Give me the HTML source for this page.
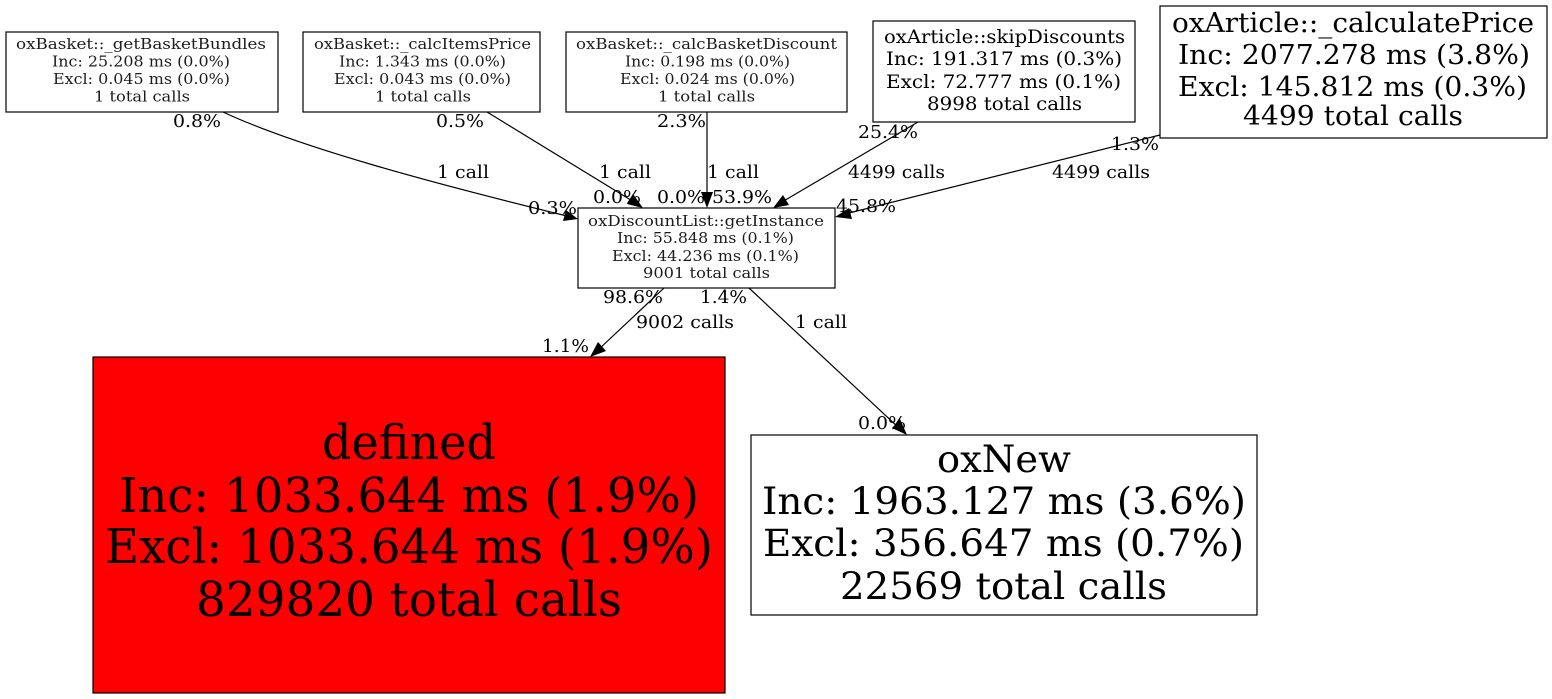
<!DOCTYPE html>
<html><head><meta charset="utf-8"><style>
html,body{margin:0;padding:0;background:#fff}
svg{display:block}
text{font-family:"DejaVu Serif","Liberation Serif",serif;fill:#000}
.n{font-size:14.5px}.n text{fill:#1c1c1c}.m{font-size:18.5px}.l{font-size:27px}.x{font-size:48px}.y{font-size:37.5px}.e{font-size:18px}
rect{stroke:#000;stroke-width:1.2;fill:#fff}
.c{fill:none;stroke:#000;stroke-width:1.2}
</style></head><body>
<svg width="1552" height="699" viewBox="0 0 1552 699" xmlns="http://www.w3.org/2000/svg">
<rect x="6" y="32" width="272" height="80"/>
<rect x="303" y="32" width="237" height="80"/>
<rect x="566" y="32" width="281" height="80"/>
<rect x="873" y="21" width="262" height="101"/>
<rect x="1160" y="6" width="387" height="132"/>
<rect x="578" y="208" width="257" height="80"/>
<rect x="93" y="357" width="632" height="336" style="fill:#f00"/>
<rect x="751" y="435" width="506" height="180"/>

<path class="c" d="M223 112C300 148 440 185 567 216"/>
<path class="c" d="M487 112L634 202"/>
<path class="c" d="M707 112V197"/>
<path class="c" d="M918 122L782 202"/>
<path class="c" d="M1160 135L845 214"/>
<path class="c" d="M664 288L598 350"/>
<path class="c" d="M749 288L899 428"/>
<polygon points="578,219 563,221 566,210"/>
<polygon points="643,208 627,204 633,194"/>
<polygon points="707,208 701,192 713,192"/>
<polygon points="773,208 783,195 789,205"/>
<polygon points="835,217 849,208 852,219"/>
<polygon points="590,357 598,342 606,351"/>
<polygon points="907,435 892,428 900,419"/>

<g class="n">
<text x="16" y="49" textLength="250" lengthAdjust="spacingAndGlyphs">oxBasket::_getBasketBundles</text>
<text x="52" y="66.5" textLength="178" lengthAdjust="spacingAndGlyphs">Inc: 25.208 ms (0.0%)</text>
<text x="53" y="84" textLength="177" lengthAdjust="spacingAndGlyphs">Excl: 0.045 ms (0.0%)</text>
<text x="94" y="101.5" textLength="96" lengthAdjust="spacingAndGlyphs">1 total calls</text>
<text x="314" y="49" textLength="217" lengthAdjust="spacingAndGlyphs">oxBasket::_calcItemsPrice</text>
<text x="339" y="66.5" textLength="167" lengthAdjust="spacingAndGlyphs">Inc: 1.343 ms (0.0%)</text>
<text x="334" y="84" textLength="177" lengthAdjust="spacingAndGlyphs">Excl: 0.043 ms (0.0%)</text>
<text x="375" y="101.5" textLength="96" lengthAdjust="spacingAndGlyphs">1 total calls</text>
<text x="576" y="49" textLength="261" lengthAdjust="spacingAndGlyphs">oxBasket::_calcBasketDiscount</text>
<text x="625" y="66.5" textLength="165" lengthAdjust="spacingAndGlyphs">Inc: 0.198 ms (0.0%)</text>
<text x="620" y="84" textLength="175" lengthAdjust="spacingAndGlyphs">Excl: 0.024 ms (0.0%)</text>
<text x="658" y="101.5" textLength="97" lengthAdjust="spacingAndGlyphs">1 total calls</text>
<text x="588" y="226" textLength="236" lengthAdjust="spacingAndGlyphs">oxDiscountList::getInstance</text>
<text x="617" y="243" textLength="177" lengthAdjust="spacingAndGlyphs">Inc: 55.848 ms (0.1%)</text>
<text x="612" y="261" textLength="187" lengthAdjust="spacingAndGlyphs">Excl: 44.236 ms (0.1%)</text>
<text x="643" y="278" textLength="127" lengthAdjust="spacingAndGlyphs">9001 total calls</text>
</g>
<g class="m">
<text x="884" y="43" textLength="241" lengthAdjust="spacingAndGlyphs">oxArticle::skipDiscounts</text>
<text x="886" y="65" textLength="236" lengthAdjust="spacingAndGlyphs">Inc: 191.317 ms (0.3%)</text>
<text x="886" y="88" textLength="235" lengthAdjust="spacingAndGlyphs">Excl: 72.777 ms (0.1%)</text>
<text x="927" y="110" textLength="155" lengthAdjust="spacingAndGlyphs">8998 total calls</text>
</g>
<g class="l">
<text x="1172" y="32" textLength="362" lengthAdjust="spacingAndGlyphs">oxArticle::_calculatePrice</text>
<text x="1178" y="64" textLength="352" lengthAdjust="spacingAndGlyphs">Inc: 2077.278 ms (3.8%)</text>
<text x="1178" y="96" textLength="349" lengthAdjust="spacingAndGlyphs">Excl: 145.812 ms (0.3%)</text>
<text x="1243" y="125" textLength="220" lengthAdjust="spacingAndGlyphs">4499 total calls</text>
</g>
<g class="x">
<text x="322" y="459" textLength="174" lengthAdjust="spacingAndGlyphs">defined</text>
<text x="119" y="512" textLength="580" lengthAdjust="spacingAndGlyphs">Inc: 1033.644 ms (1.9%)</text>
<text x="105" y="563" textLength="608" lengthAdjust="spacingAndGlyphs">Excl: 1033.644 ms (1.9%)</text>
<text x="196" y="616" textLength="426" lengthAdjust="spacingAndGlyphs">829820 total calls</text>
</g>
<g class="y">
<text x="937" y="472" textLength="134" lengthAdjust="spacingAndGlyphs">oxNew</text>
<text x="762" y="514" textLength="484" lengthAdjust="spacingAndGlyphs">Inc: 1963.127 ms (3.6%)</text>
<text x="763" y="556" textLength="481" lengthAdjust="spacingAndGlyphs">Excl: 356.647 ms (0.7%)</text>
<text x="840" y="599" textLength="327" lengthAdjust="spacingAndGlyphs">22569 total calls</text>
</g>
<g class="e">
<text x="173" y="127" textLength="48" lengthAdjust="spacingAndGlyphs">0.8%</text>
<text x="437" y="178" textLength="52" lengthAdjust="spacingAndGlyphs">1 call</text>
<text x="528" y="214" textLength="49" lengthAdjust="spacingAndGlyphs">0.3%</text>
<text x="436" y="127" textLength="48" lengthAdjust="spacingAndGlyphs">0.5%</text>
<text x="599" y="178" textLength="52" lengthAdjust="spacingAndGlyphs">1 call</text>
<text x="593" y="203" textLength="48" lengthAdjust="spacingAndGlyphs">0.0%</text>
<text x="657" y="127" textLength="49" lengthAdjust="spacingAndGlyphs">2.3%</text>
<text x="707" y="178" textLength="52" lengthAdjust="spacingAndGlyphs">1 call</text>
<text x="657" y="203" textLength="48" lengthAdjust="spacingAndGlyphs">0.0%</text>
<text x="712" y="203" textLength="60" lengthAdjust="spacingAndGlyphs">53.9%</text>
<text x="858" y="138" textLength="60" lengthAdjust="spacingAndGlyphs">25.4%</text>
<text x="848" y="178" textLength="97" lengthAdjust="spacingAndGlyphs">4499 calls</text>
<text x="1111" y="150" textLength="48" lengthAdjust="spacingAndGlyphs">1.3%</text>
<text x="1052" y="178" textLength="98" lengthAdjust="spacingAndGlyphs">4499 calls</text>
<text x="836" y="212" textLength="60" lengthAdjust="spacingAndGlyphs">45.8%</text>
<text x="603" y="303" textLength="60" lengthAdjust="spacingAndGlyphs">98.6%</text>
<text x="700" y="303" textLength="47" lengthAdjust="spacingAndGlyphs">1.4%</text>
<text x="636" y="328" textLength="98" lengthAdjust="spacingAndGlyphs">9002 calls</text>
<text x="795" y="328" textLength="52" lengthAdjust="spacingAndGlyphs">1 call</text>
<text x="542" y="352" textLength="47" lengthAdjust="spacingAndGlyphs">1.1%</text>
<text x="858" y="429" textLength="48" lengthAdjust="spacingAndGlyphs">0.0%</text>
</g>
</svg>
</body></html>
